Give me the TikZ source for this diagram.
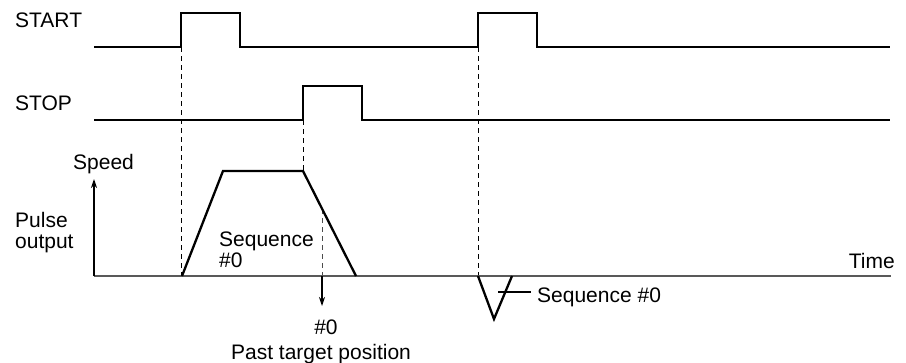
\documentclass[tikz,border=0pt]{standalone}
\usepackage{fontspec}
\setmainfont{Liberation Sans}
\usetikzlibrary{arrows.meta}
\begin{document}
\begin{tikzpicture}[x=1pt,y=-1pt,
  sig/.style={line width=2.5pt,line join=miter},
  axis/.style={line width=2pt,draw=black!65},
  guide/.style={line width=1pt,dash pattern=on 5pt off 4pt},
  thin/.style={line width=1.1pt},
  lbl/.style={inner sep=0pt,anchor=base west,font=\fontsize{21}{25}\selectfont},
  lblc/.style={inner sep=0pt,anchor=base,font=\fontsize{21}{25}\selectfont},
  tip/.style={-{Stealth[length=9pt,width=6pt]}}]
\useasboundingbox (0,0) rectangle (906,362);
% labels
\node[lbl] (start) at (15,27) {START};
\node[lbl] (stop) at (15,110) {STOP};
\node[lbl] (speed) at (73,169.5) {Speed};
\node[lbl] (pulse) at (15,227.5) {Pulse};
\node[lbl] (output) at (15,248.5) {output};
\node[lbl] (seqa) at (219,246.5) {Sequence};
\node[lbl] (seqb) at (219,267.5) {\#0};
\node[inner sep=0pt,anchor=base east,font=\fontsize{21}{25}\selectfont] (time) at (895,268) {Time};
\node[lblc] (past0) at (326,334) {\#0};
\node[lblc] (past) at (321,359) {Past target position};
\node[lbl] (seqc) at (537,302) {Sequence \#0};
% coordinates
\coordinate (s0) at (94,47);
\coordinate (s1) at (181,47);
\coordinate (s2) at (181,13);
\coordinate (s3) at (240,13);
\coordinate (s4) at (240,47);
\coordinate (s5) at (478,47);
\coordinate (s6) at (478,13);
\coordinate (s7) at (537,13);
\coordinate (s8) at (537,47);
\coordinate (s9) at (890,47);
\coordinate (p0) at (94,120);
\coordinate (p1) at (303,120);
\coordinate (p2) at (303,86);
\coordinate (p3) at (362,86);
\coordinate (p4) at (362,120);
\coordinate (p5) at (890,120);
\coordinate (o) at (94,276);
\coordinate (xend) at (891,276);
\coordinate (yend) at (94,179);
\coordinate (t0) at (182,276);
\coordinate (t1) at (223,171);
\coordinate (t2) at (303,171);
\coordinate (t3) at (356,276);
\coordinate (g1) at (181,276);
\coordinate (g3) at (478,276);
\coordinate (d0) at (322,209);
\coordinate (d1) at (322,276);
\coordinate (d2) at (322,306);
\coordinate (v0) at (478,276);
\coordinate (v1) at (494,319);
\coordinate (v2) at (512,276);
\coordinate (l0) at (498,292);
\coordinate (l1) at (531,292);
% signals
\draw[sig] (s0) -- (s1) -- (s2) -- (s3) -- (s4) -- (s5) -- (s6) -- (s7) -- (s8) -- (s9);
\draw[sig] (p0) -- (p1) -- (p2) -- (p3) -- (p4) -- (p5);
% guides
\draw[guide] (s1) -- (g1);
\draw[guide] (p1) -- (t2);
\draw[guide] (s5) -- (g3);
\draw[guide,line width=0.6pt,draw=black!70] (d0) -- (d1);
% axes
\draw[axis] (o) -- (xend);
\draw[thin,tip] (o) -- (yend);
% profiles
\draw[sig,line width=2.3pt] (t0) -- (t1) -- (t2) -- (t3);
\draw[sig,line width=2.3pt] (v0) -- (v1) -- (v2);
\draw[thin] (l0) -- (l1);
\draw[thin,tip] (d1) -- (d2);
\end{tikzpicture}
\end{document}
